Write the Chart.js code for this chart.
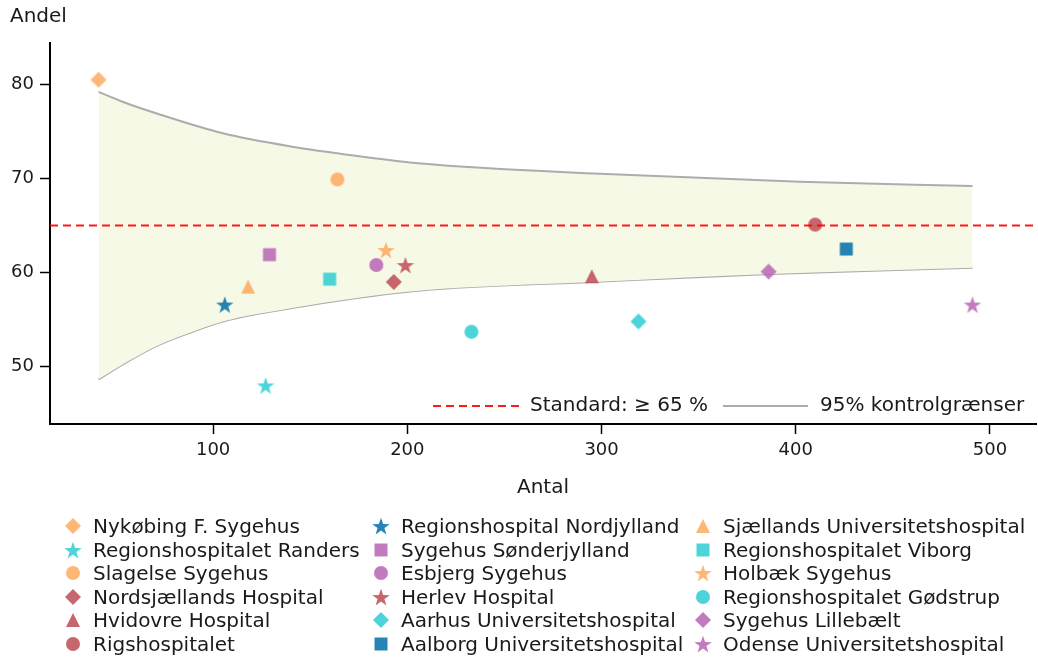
<!DOCTYPE html>
<html>
<head>
<meta charset="utf-8">
<script src="https://cdn.jsdelivr.net/npm/chart.js@4.4.1/dist/chart.umd.min.js"></script>
<style>
  body { margin: 0; background: #fff; font-family: "DejaVu Sans", sans-serif; }
  #wrap { position: relative; width: 1038px; height: 510px; }
  #legend { position: absolute; left: 0; top: 0; width: 1038px; height: 659px; pointer-events: none; }
  .item { position: absolute; height: 24px; display: flex; align-items: center; font-size: 20px; color: #1a1a1a; white-space: nowrap; }
  .item canvas { margin-right: 8px; }
</style>
</head>
<body>
<div id="wrap"><canvas id="myChart"></canvas></div>
<div id="legend"></div>
<script>
// hospitals, in the legend's column order
const hospitals = [
  "Nykøbing F. Sygehus", "Regionshospitalet Randers", "Slagelse Sygehus",
  "Nordsjællands Hospital", "Hvidovre Hospital", "Rigshospitalet",
  "Regionshospital Nordjylland", "Sygehus Sønderjylland", "Esbjerg Sygehus",
  "Herlev Hospital", "Aarhus Universitetshospital", "Aalborg Universitetshospital",
  "Sjællands Universitetshospital", "Regionshospitalet Viborg", "Holbæk Sygehus",
  "Regionshospitalet Gødstrup", "Sygehus Lillebælt", "Odense Universitetshospital"
];
const antal = [41, 127, 164, 193, 295, 410, 106, 129, 184, 199, 319, 426, 118, 160, 189, 233, 386, 491];
const andel = [80.5, 48.0, 69.9, 59.0, 59.6, 65.1, 56.6, 61.9, 60.8, 60.8, 54.8, 62.5, 58.5, 59.3, 62.4, 53.7, 60.1, 56.6];

// 95% control limits
const upperX = [41, 54, 71, 105, 140, 174, 207, 299, 402, 491];
const upperY = [79.2, 78.1, 76.9, 74.8, 73.4, 72.4, 71.6, 70.5, 69.65, 69.2];
const lowerX = [41, 54, 71, 88, 105, 140, 174, 207, 295, 387, 491];
const lowerY = [48.65, 50.3, 52.2, 53.6, 54.8, 56.2, 57.3, 58.1, 59.0, 59.85, 60.5];

const standard = 65;
const xTicks = [100, 200, 300, 400, 500];
const yTicks = [50, 60, 70, 80];

// styles
const colors = {
  orange: "rgba(253,170,95,0.85)",
  cyan: "rgba(45,205,210,0.85)",
  red: "rgba(190,75,85,0.85)",
  blue: "rgba(0,110,170,0.85)",
  purple: "rgba(185,100,180,0.85)"
};
const shapes = ["diamond", "star", "circle", "diamond", "triangle", "circle",
  "star", "square", "circle", "star", "diamond", "square",
  "triangle", "square", "star", "circle", "diamond", "star"];
const shapeColors = ["orange", "cyan", "orange", "red", "red", "red",
  "blue", "purple", "purple", "red", "cyan", "blue",
  "orange", "cyan", "orange", "cyan", "purple", "purple"];

Chart.defaults.font.family = "'DejaVu Sans', sans-serif";

function makeMarker(shape, color) {
  const c = document.createElement("canvas");
  c.width = 24; c.height = 24;
  const ctx = c.getContext("2d");
  ctx.fillStyle = color;
  ctx.beginPath();
  if (shape === "circle") {
    ctx.arc(12, 12, 7, 0, Math.PI * 2);
  } else if (shape === "square") {
    ctx.rect(5.5, 5.5, 13, 13);
  } else if (shape === "diamond") {
    ctx.moveTo(12, 4); ctx.lineTo(20, 12); ctx.lineTo(12, 20); ctx.lineTo(4, 12);
  } else if (shape === "triangle") {
    ctx.moveTo(12, 5); ctx.lineTo(19, 19); ctx.lineTo(5, 19);
  } else if (shape === "star") {
    for (let i = 0; i < 10; i++) {
      const rad = i % 2 ? 3.6 : 9.2;
      const a = -Math.PI / 2 + i * Math.PI / 5;
      ctx.lineTo(12 + rad * Math.cos(a), 13 + rad * Math.sin(a));
    }
  }
  ctx.closePath();
  ctx.fill();
  return c;
}

const markers = shapes.map((s, i) => makeMarker(s, colors[shapeColors[i]]));

const datasets = [];
datasets.push({
  type: "line",
  label: "Standard: ≥ 65 %",
  data: [{x: 16, y: standard}, {x: 523.7, y: standard}],
  borderColor: "rgba(255,0,0,0.9)",
  borderDash: [8, 5],
  borderWidth: 2,
  pointRadius: 0,
  fill: false,
  order: 0
});
hospitals.forEach((name, i) => {
  datasets.push({
    type: "scatter",
    label: name,
    data: [{x: antal[i], y: andel[i]}],
    pointStyle: markers[i],
    pointRadius: 9,
    order: 1
  });
});
datasets.push({
  type: "line",
  label: "95% kontrolgrænser",
  data: upperX.map((x, i) => ({x: x, y: upperY[i]})),
  borderColor: "#acacac",
  borderWidth: 2,
  pointRadius: 0,
  cubicInterpolationMode: "monotone",
  backgroundColor: "#f7f9e7",
  fill: "+1",
  order: 2
});
datasets.push({
  type: "line",
  label: "lower",
  data: lowerX.map((x, i) => ({x: x, y: lowerY[i]})),
  borderColor: "#acacac",
  borderWidth: 2,
  pointRadius: 0,
  cubicInterpolationMode: "monotone",
  fill: false,
  order: 2
});

const extras = {
  id: "extras",
  afterDraw(chart) {
    const ctx = chart.ctx;
    const area = chart.chartArea;
    ctx.save();
    ctx.fillStyle = "#1a1a1a";
    ctx.font = "20px 'DejaVu Sans'";
    ctx.textAlign = "left";
    ctx.textBaseline = "middle";
    ctx.fillText("Andel", 10, 17);

    // legend inside the plot
    const y = area.bottom - 18;
    const std = chart.data.datasets[0];
    const lim = chart.data.datasets[chart.data.datasets.length - 2];
    ctx.lineWidth = 2;
    ctx.strokeStyle = std.borderColor;
    ctx.setLineDash([8, 5]);
    ctx.beginPath(); ctx.moveTo(area.right - 603, y); ctx.lineTo(area.right - 516, y); ctx.stroke();
    ctx.setLineDash([]);
    ctx.strokeStyle = lim.borderColor;
    ctx.beginPath(); ctx.moveTo(area.right - 313, y); ctx.lineTo(area.right - 228, y); ctx.stroke();
    ctx.fillText(std.label, area.right - 506, y);
    ctx.fillText(lim.label, area.right - 216, y);
    ctx.restore();
  }
};

new Chart(document.getElementById("myChart"), {
  type: "scatter",
  data: { datasets: datasets },
  options: {
    responsive: true,
    maintainAspectRatio: false,
    animation: false,
    layout: { autoPadding: false, padding: { top: 43, right: 2, left: 0, bottom: 0 } },
    plugins: { legend: { display: false }, tooltip: { enabled: false } },
    scales: {
      x: {
        type: "linear",
        min: 16,
        max: 523.7,
        afterBuildTicks: s => { s.ticks = xTicks.map(v => ({value: v})); },
        afterFit: s => { s.height = 86; },
        grid: { drawOnChartArea: false, tickLength: 10, tickWidth: 1.5, tickColor: "#000" },
        border: { display: true, color: "#000", width: 2 },
        ticks: { font: { size: 18 }, color: "#1a1a1a", padding: 6, maxRotation: 0 },
        title: { display: true, text: "Antal", font: { size: 20 }, color: "#1a1a1a", padding: { top: 4, bottom: 10 } }
      },
      y: {
        min: 43.9,
        max: 84.4,
        afterBuildTicks: s => { s.ticks = yTicks.map(v => ({value: v})); },
        afterFit: s => { s.width = 50; },
        grid: { drawOnChartArea: false, tickLength: 10, tickWidth: 1.5, tickColor: "#000" },
        border: { display: true, color: "#000", width: 2 },
        ticks: { font: { size: 18 }, color: "#1a1a1a", padding: 6 }
      }
    }
  },
  plugins: [extras]
});

// legend under the chart, three columns
const legend = document.getElementById("legend");
hospitals.forEach((name, i) => {
  const col = Math.floor(i / 6), row = i % 6;
  const colX = [61, 369, 691];
  const div = document.createElement("div");
  div.className = "item";
  div.style.left = colX[col] + "px";
  div.style.top = (514 + row * 23.6) + "px";
  div.appendChild(makeMarker(shapes[i], colors[shapeColors[i]]));
  div.appendChild(document.createTextNode(name));
  legend.appendChild(div);
});
</script>
</body>
</html>
